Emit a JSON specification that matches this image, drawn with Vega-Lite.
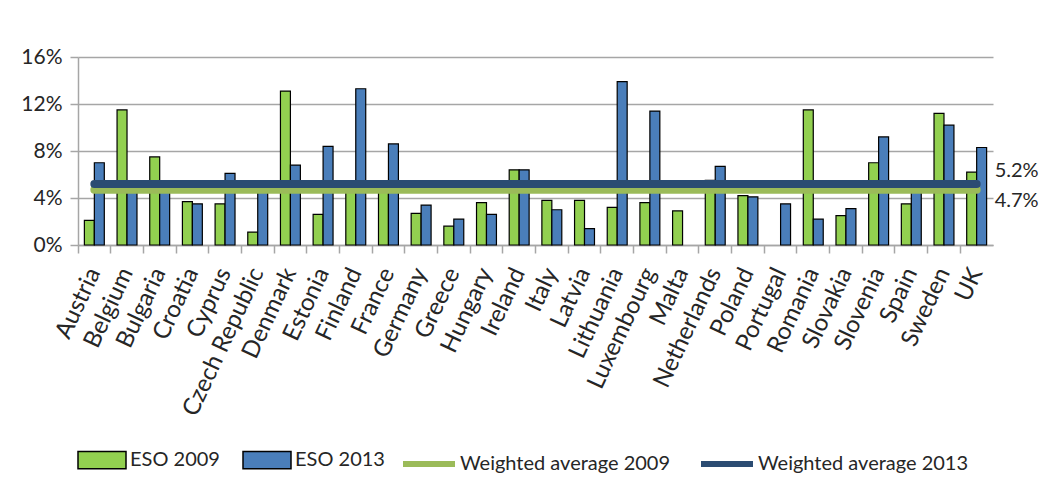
{
  "$schema": "https://vega.github.io/schema/vega-lite/v6.json",
  "autosize": "none",
  "width": 915,
  "height": 188,
  "padding": {"left": 78, "top": 57, "right": 48, "bottom": 255},
  "background": "white",
  "config": {
    "view": {"stroke": null},
    "font": "Lato",
    "axis": {"labelFont": "Lato", "labelColor": "#262626"},
    "legend": {"labelFont": "Lato", "labelColor": "#262626", "labelLimit": 0}
  },
  "datasets": {
    "bars": [
      {"country": "Austria", "series": "ESO 2009", "value": 2.1},
      {"country": "Austria", "series": "ESO 2013", "value": 7.0},
      {"country": "Belgium", "series": "ESO 2009", "value": 11.5},
      {"country": "Belgium", "series": "ESO 2013", "value": 5.0},
      {"country": "Bulgaria", "series": "ESO 2009", "value": 7.5},
      {"country": "Bulgaria", "series": "ESO 2013", "value": 4.8},
      {"country": "Croatia", "series": "ESO 2009", "value": 3.7},
      {"country": "Croatia", "series": "ESO 2013", "value": 3.5},
      {"country": "Cyprus", "series": "ESO 2009", "value": 3.5},
      {"country": "Cyprus", "series": "ESO 2013", "value": 6.1},
      {"country": "Czech Republic", "series": "ESO 2009", "value": 1.1},
      {"country": "Czech Republic", "series": "ESO 2013", "value": 4.8},
      {"country": "Denmark", "series": "ESO 2009", "value": 13.1},
      {"country": "Denmark", "series": "ESO 2013", "value": 6.8},
      {"country": "Estonia", "series": "ESO 2009", "value": 2.6},
      {"country": "Estonia", "series": "ESO 2013", "value": 8.4},
      {"country": "Finland", "series": "ESO 2009", "value": 5.0},
      {"country": "Finland", "series": "ESO 2013", "value": 13.3},
      {"country": "France", "series": "ESO 2009", "value": 5.0},
      {"country": "France", "series": "ESO 2013", "value": 8.6},
      {"country": "Germany", "series": "ESO 2009", "value": 2.7},
      {"country": "Germany", "series": "ESO 2013", "value": 3.4},
      {"country": "Greece", "series": "ESO 2009", "value": 1.6},
      {"country": "Greece", "series": "ESO 2013", "value": 2.2},
      {"country": "Hungary", "series": "ESO 2009", "value": 3.6},
      {"country": "Hungary", "series": "ESO 2013", "value": 2.6},
      {"country": "Ireland", "series": "ESO 2009", "value": 6.4},
      {"country": "Ireland", "series": "ESO 2013", "value": 6.4},
      {"country": "Italy", "series": "ESO 2009", "value": 3.8},
      {"country": "Italy", "series": "ESO 2013", "value": 3.0},
      {"country": "Latvia", "series": "ESO 2009", "value": 3.8},
      {"country": "Latvia", "series": "ESO 2013", "value": 1.4},
      {"country": "Lithuania", "series": "ESO 2009", "value": 3.2},
      {"country": "Lithuania", "series": "ESO 2013", "value": 13.9},
      {"country": "Luxembourg", "series": "ESO 2009", "value": 3.6},
      {"country": "Luxembourg", "series": "ESO 2013", "value": 11.4},
      {"country": "Malta", "series": "ESO 2009", "value": 2.9},
      {"country": "Netherlands", "series": "ESO 2009", "value": 5.5},
      {"country": "Netherlands", "series": "ESO 2013", "value": 6.7},
      {"country": "Poland", "series": "ESO 2009", "value": 4.2},
      {"country": "Poland", "series": "ESO 2013", "value": 4.1},
      {"country": "Portugal", "series": "ESO 2013", "value": 3.5},
      {"country": "Romania", "series": "ESO 2009", "value": 11.5},
      {"country": "Romania", "series": "ESO 2013", "value": 2.2},
      {"country": "Slovakia", "series": "ESO 2009", "value": 2.5},
      {"country": "Slovakia", "series": "ESO 2013", "value": 3.1},
      {"country": "Slovenia", "series": "ESO 2009", "value": 7.0},
      {"country": "Slovenia", "series": "ESO 2013", "value": 9.2},
      {"country": "Spain", "series": "ESO 2009", "value": 3.5},
      {"country": "Spain", "series": "ESO 2013", "value": 4.9},
      {"country": "Sweden", "series": "ESO 2009", "value": 11.2},
      {"country": "Sweden", "series": "ESO 2013", "value": 10.2},
      {"country": "UK", "series": "ESO 2009", "value": 6.2},
      {"country": "UK", "series": "ESO 2013", "value": 8.3}
    ],
    "avgs": [
      {"avg": "Weighted average 2009", "value": 4.7, "label": "4.7%", "from": "Austria", "to": "UK"},
      {"avg": "Weighted average 2013", "value": 5.2, "label": "5.2%", "from": "Austria", "to": "UK"}
    ]
  },
  "layer": [
    {
      "data": {"name": "bars"},
      "mark": {"type": "bar", "stroke": "black", "strokeWidth": 1.2},
      "encoding": {
        "x": {
          "field": "country", "type": "nominal", "title": null,
          "scale": {
            "domain": ["Austria","Belgium","Bulgaria","Croatia","Cyprus","Czech Republic","Denmark","Estonia","Finland","France","Germany","Greece","Hungary","Ireland","Italy","Latvia","Lithuania","Luxembourg","Malta","Netherlands","Poland","Portugal","Romania","Slovakia","Slovenia","Spain","Sweden","UK"],
            "paddingInner": 0, "paddingOuter": 0
          },
          "axis": {
            "labelAngle": -65, "labelAlign": "right", "labelBaseline": "middle",
            "labelFontSize": 24, "labelPadding": 16,
            "bandPosition": 0, "tickSize": 8, "tickColor": "#A6A6A6", "tickWidth": 1.5,
            "domainColor": "#A6A6A6", "domainWidth": 1.5, "grid": false
          }
        },
        "xOffset": {"field": "series", "type": "nominal", "scale": {"paddingOuter": 0.64, "paddingInner": 0}},
        "y": {
          "field": "value", "type": "quantitative", "title": null,
          "scale": {"domain": [0, 16], "nice": false},
          "axis": {
            "values": [0, 4, 8, 12, 16],
            "labelExpr": "datum.value + '%'",
            "labelFontSize": 21, "labelPadding": 8,
            "tickSize": 8, "tickColor": "#A6A6A6", "tickWidth": 1.5,
            "grid": true, "gridColor": "#A6A6A6", "gridWidth": 1.5,
            "domainColor": "#A6A6A6", "domainWidth": 1.5
          }
        },
        "fill": {
          "field": "series", "type": "nominal",
          "scale": {"domain": ["ESO 2009", "ESO 2013"], "range": ["#92D050", "#4A7EBA"]},
          "legend": {
            "title": null, "orient": "none", "direction": "horizontal",
            "legendX": -1, "legendY": 378,
            "symbolType": "M-1,-0.36H1V0.36H-1Z", "symbolSize": 2304,
            "symbolStrokeColor": "black", "symbolStrokeWidth": 1.5,
            "labelFontSize": 20, "labelOffset": 3, "columnPadding": 20
          }
        }
      }
    },
    {
      "data": {"name": "avgs"},
      "mark": {"type": "rule", "strokeWidth": 8, "strokeCap": "round"},
      "encoding": {
        "x": {"field": "from", "type": "nominal"},
        "x2": {"field": "to"},
        "y": {"field": "value", "type": "quantitative"},
        "stroke": {
          "field": "avg", "type": "nominal",
          "scale": {"domain": ["Weighted average 2009", "Weighted average 2013"], "range": ["#9BBB59", "#2B4C72"]},
          "legend": {
            "title": null, "orient": "none", "direction": "horizontal",
            "legendX": 322, "legendY": 378,
            "symbolType": "stroke", "symbolSize": 2704, "symbolStrokeWidth": 6,
            "labelFontSize": 20, "labelOffset": 2, "columnPadding": 18
          }
        }
      }
    },
    {
      "data": {"name": "avgs"},
      "transform": [{"filter": "datum.value > 5"}],
      "mark": {"type": "text", "align": "left", "baseline": "middle", "dx": 18, "dy": -13, "fontSize": 20, "color": "#262626"},
      "encoding": {
        "x": {"field": "to", "type": "nominal"},
        "y": {"field": "value", "type": "quantitative"},
        "text": {"field": "label"}
      }
    },
    {
      "data": {"name": "avgs"},
      "transform": [{"filter": "datum.value < 5"}],
      "mark": {"type": "text", "align": "left", "baseline": "middle", "dx": 18, "dy": 11, "fontSize": 20, "color": "#262626"},
      "encoding": {
        "x": {"field": "to", "type": "nominal"},
        "y": {"field": "value", "type": "quantitative"},
        "text": {"field": "label"}
      }
    }
  ]
}
